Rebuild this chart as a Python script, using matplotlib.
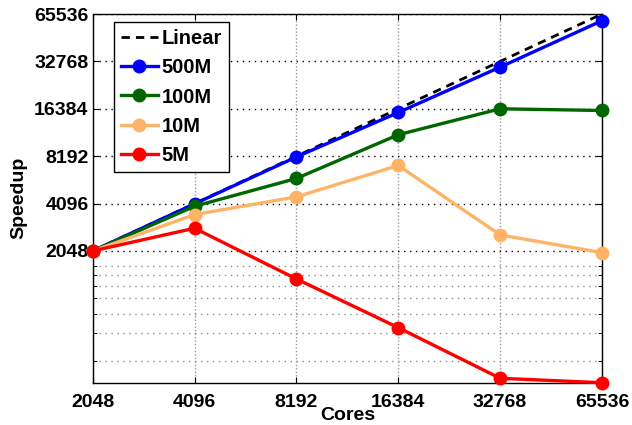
import matplotlib
matplotlib.use('Agg')
import matplotlib.pyplot as plt
from matplotlib.ticker import FixedLocator, NullLocator, NullFormatter

plt.rcParams['font.family'] = ['Liberation Sans', 'DejaVu Sans']
plt.rcParams['font.weight'] = 'bold'
plt.rcParams['font.size'] = 14

# Data
cores = [2048, 4096, 8192, 16384, 32768, 65536]
linear = [2048, 4096, 8192, 16384, 32768, 65536]
speedup_500m = [2048, 4080, 8100, 15520, 30150, 59440]
speedup_100m = [2048, 3937, 5914, 11210, 16384, 15980]
speedup_10m = [2048, 3487, 4517, 7150, 2589, 1998]
speedup_5m = [2048, 2855, 1360, 667, 318, 298]

tick_vals = [2048, 4096, 8192, 16384, 32768, 65536]
tick_labels = ['2048', '4096', '8192', '16384', '32768', '65536']
minor_vals = [409.6, 614.4, 819.2, 1024, 1228.8, 1433.6, 1638.4]

fig = plt.figure(figsize=(6.32, 4.25), dpi=100)
ax = fig.add_axes([0.1467, 0.0995, 0.8058, 0.8675])

ax.plot(cores, linear, color='black', lw=2, dashes=(3, 2.2), label='Linear')
style = dict(lw=2.4, marker='o', markersize=9, clip_on=False, zorder=3)
ax.plot(cores, speedup_500m, color=(0, 0, 1), label='500M', **style)
ax.plot(cores, speedup_100m, color=(0, 0.4, 0), label='100M', **style)
ax.plot(cores, speedup_10m, color=(1, 0.7, 0.4), label='10M', **style)
ax.plot(cores, speedup_5m, color=(1, 0, 0), label='5M', **style)

ax.set_xscale('log', base=2)
ax.set_yscale('log', base=2)
ax.set_xlim(2048, 65536)
ax.set_ylim(298, 65536)

ax.set_xticks(tick_vals)
ax.set_xticklabels(tick_labels)
ax.xaxis.set_minor_locator(NullLocator())
ax.set_yticks(tick_vals)
ax.set_yticklabels(tick_labels)
ax.yaxis.set_minor_locator(FixedLocator(minor_vals))
ax.yaxis.set_minor_formatter(NullFormatter())

ax.tick_params(which='both', direction='in', top=True, right=True, labelsize=14)
ax.tick_params(axis='x', which='major', length=4, pad=8)
ax.tick_params(axis='y', which='major', length=4, pad=3)
ax.tick_params(axis='y', which='minor', length=3)

ax.yaxis.grid(True, which='major', color='black', lw=1, dashes=(1, 3.3))
ax.yaxis.grid(True, which='minor', color='0.55', lw=1, dashes=(1, 3.3))
ax.xaxis.grid(True, which='major', color='0.6', lw=1, dashes=(1, 1.5))
ax.set_axisbelow(True)

for s in ax.spines.values():
    s.set_linewidth(1)

ax.set_xlabel('Cores', fontsize=14, fontweight='bold', labelpad=-3)
ax.set_ylabel('Speedup', fontsize=14, fontweight='bold', labelpad=5)

leg = ax.legend(loc='upper left', bbox_to_anchor=(0.0424, 0.9775), borderaxespad=0,
                fancybox=False, edgecolor='black', framealpha=1, handlelength=1.8,
                handletextpad=0.2, labelspacing=0.5, borderpad=0.35,
                prop={'weight': 'bold', 'size': 14.5})
leg.get_frame().set_linewidth(1)

fig.savefig('out.png', dpi=100)
